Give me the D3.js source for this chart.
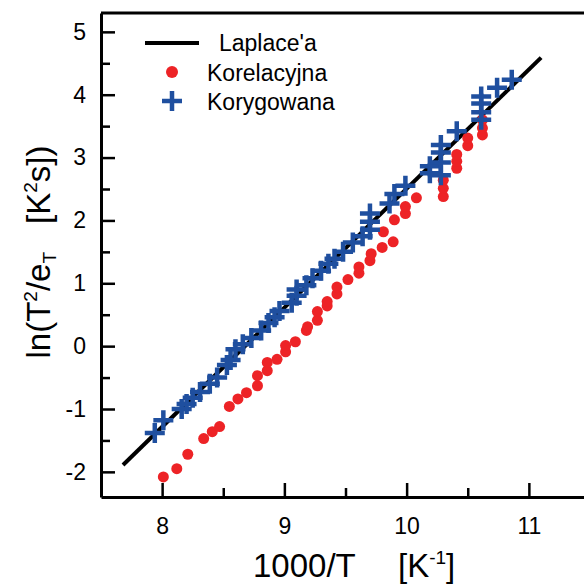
<!DOCTYPE html>
<html lang="en">
<head>
<meta charset="UTF-8">
<title>ln(T2/eT) vs 1000/T</title>
<script src="https://d3js.org/d3.v7.min.js"></script>
<style>
  body { margin: 0; background: #fff; }
  svg { display: block; font-family: "Liberation Sans", Arial, sans-serif; }
  .axis path, .axis line { stroke: #000; }
  .axis text { font-size: 23px; fill: #000; }
</style>
</head>
<body>
<script>
// Laplace'a fit line (end points)
const laplaceX = [7.68, 11.10];
const laplaceY = [-1.89, 4.59];

// Korelacyjna (red dots)
const korelX = [8.01, 8.12, 8.21, 8.34, 8.41, 8.47, 8.55, 8.62, 8.69, 8.78, 8.78, 8.86, 8.86, 8.94,
  9.01, 9.01, 9.09, 9.18, 9.19, 9.27, 9.27, 9.35, 9.35, 9.43, 9.43, 9.52, 9.61, 9.61, 9.70, 9.71,
  9.80, 9.89, 9.81, 9.90, 9.99, 9.99, 10.08, 10.30, 10.30, 10.30, 10.41, 10.41, 10.41, 10.50, 10.50,
  10.62, 10.62, 10.62];
const korelY = [-2.08, -1.95, -1.72, -1.47, -1.36, -1.28, -0.96, -0.84, -0.74, -0.63, -0.47, -0.39, -0.26, -0.21,
  -0.09, 0.01, 0.07, 0.25, 0.31, 0.41, 0.55, 0.64, 0.71, 0.83, 0.94, 1.06, 1.16, 1.26, 1.36, 1.47,
  1.57, 1.66, 1.82, 2.01, 2.11, 2.22, 2.36, 2.38, 2.51, 2.64, 2.83, 2.94, 3.05, 3.19, 3.31,
  3.36, 3.47, 3.60];

// Korygowana (blue crosses)
const korygX = [7.94, 8.01, 8.16, 8.20, 8.25, 8.31, 8.39, 8.45, 8.53, 8.56, 8.60, 8.66, 8.73, 8.81,
  8.87, 8.92, 8.96, 9.06, 9.10, 9.10, 9.18, 9.23, 9.30, 9.36, 9.41, 9.48, 9.56, 9.64, 9.70, 9.70,
  9.70, 9.86, 9.90, 9.99, 10.19, 10.19, 10.28, 10.28, 10.28, 10.28, 10.41, 10.61, 10.61, 10.61,
  10.61, 10.74, 10.86];
const korygY = [-1.38, -1.18, -1.00, -0.92, -0.82, -0.73, -0.60, -0.50, -0.30, -0.22, -0.05, 0.03, 0.13, 0.25,
  0.37, 0.46, 0.56, 0.69, 0.80, 0.90, 0.97, 1.08, 1.20, 1.31, 1.39, 1.50, 1.65, 1.75, 1.85, 1.98,
  2.11, 2.27, 2.42, 2.55, 2.75, 2.86, 2.72, 2.92, 3.08, 3.20, 3.42, 3.60, 3.72, 3.86,
  3.97, 4.11, 4.24];

const xTicks = [8, 9, 10, 11];
const yTicks = [-2, -1, 0, 1, 2, 3, 4, 5];
const legendLabels = ["Laplace'a", "Korelacyjna", "Korygowana"];

const red = "#ed2326", blue = "#1f4f9f";

const W = 584, H = 586;
const svg = d3.select("body").append("svg").attr("width", W).attr("height", H);

const x = d3.scaleLinear().domain([7.5, 11.5]).range([101, 590]);
const y = d3.scaleLinear().domain([-2.4, 5.3]).range([497, 13]);

// frame (top line; right side falls outside the picture)
svg.append("line")
  .attr("x1", x(7.5)).attr("x2", x(11.5))
  .attr("y1", y(5.3)).attr("y2", y(5.3))
  .attr("stroke", "#000").attr("stroke-width", 3);

// minor ticks
const minorX = d3.range(7.5, 11.51, 0.5).filter(v => !xTicks.includes(v));
const minorY = d3.range(-2.5, 5.01, 0.5).filter(v => !yTicks.includes(v) && v > -2.4);

svg.append("g").attr("class", "axis")
  .attr("transform", `translate(0,${y(-2.4)})`)
  .call(d3.axisBottom(x).tickValues(minorX).tickSize(-9).tickFormat(""))
  .call(g => g.select(".domain").remove())
  .selectAll("line").attr("stroke-width", 2.5);

svg.append("g").attr("class", "axis")
  .attr("transform", `translate(${x(7.5)},0)`)
  .call(d3.axisLeft(y).tickValues(minorY).tickSize(-9).tickFormat(""))
  .call(g => g.select(".domain").remove())
  .selectAll("line").attr("stroke-width", 2.5);

// major axes (plain hyphen for negatives, as in the original)
const fmt = d => String(d);
const xAxis = svg.append("g").attr("class", "axis")
  .attr("transform", `translate(0,${y(-2.4)})`)
  .call(d3.axisBottom(x).tickValues(xTicks).tickSize(-14).tickSizeOuter(0).tickPadding(21).tickFormat(fmt));
xAxis.select(".domain").attr("stroke-width", 3);
xAxis.selectAll("line").attr("stroke-width", 2.5);

const yAxis = svg.append("g").attr("class", "axis")
  .attr("transform", `translate(${x(7.5)},0)`)
  .call(d3.axisLeft(y).tickValues(yTicks).tickSize(-14).tickSizeOuter(0).tickPadding(15).tickFormat(fmt));
yAxis.select(".domain").attr("stroke-width", 3);
yAxis.selectAll("line").attr("stroke-width", 2.5);

// Laplace line
svg.append("line")
  .attr("x1", x(laplaceX[0])).attr("y1", y(laplaceY[0]))
  .attr("x2", x(laplaceX[1])).attr("y2", y(laplaceY[1]))
  .attr("stroke", "#000").attr("stroke-width", 4);

// red dots
svg.append("g").selectAll("circle")
  .data(korelX.map((v, i) => [v, korelY[i]]))
  .join("circle")
  .attr("cx", d => x(d[0])).attr("cy", d => y(d[1]))
  .attr("r", 5.5).attr("fill", red);

// blue crosses
function plus(g, cx, cy) {
  g.append("path")
    .attr("d", `M${cx - 10},${cy}H${cx + 10}M${cx},${cy - 10}V${cy + 10}`)
    .attr("stroke", blue).attr("stroke-width", 4.5).attr("fill", "none");
}
const crosses = svg.append("g");
korygX.forEach((v, i) => plus(crosses, x(v), y(korygY[i])));

// legend
const leg = svg.append("g").style("font-size", "23px");
leg.append("line").attr("x1", 145).attr("x2", 199).attr("y1", 43).attr("y2", 43)
  .attr("stroke", "#000").attr("stroke-width", 4);
leg.append("text").attr("x", 219).attr("y", 51).text(legendLabels[0]);
leg.append("circle").attr("cx", 172).attr("cy", 72).attr("r", 6).attr("fill", red);
leg.append("text").attr("x", 207).attr("y", 81).text(legendLabels[1]);
plus(leg, 172, 101);
leg.append("text").attr("x", 207).attr("y", 110).text(legendLabels[2]);

// x title
const xt = svg.append("text").attr("x", 253).attr("y", 577).style("font-size", "33px");
xt.append("tspan").text("1000/T");
xt.append("tspan").attr("x", 398).text("[K");
xt.append("tspan").attr("dy", -13).style("font-size", "19px").text("-1");
xt.append("tspan").attr("dy", 13).text("]");

// y title
const yt = svg.append("text")
  .attr("transform", "translate(50,252) rotate(-90)")
  .attr("text-anchor", "middle").style("font-size", "33px");
yt.append("tspan").text("ln(T");
yt.append("tspan").attr("dy", -13).style("font-size", "19px").text("2");
yt.append("tspan").attr("dy", 13).text("/e");
yt.append("tspan").attr("dy", 6).style("font-size", "19px").text("T");
yt.append("tspan").attr("dy", -6).attr("dx", 28).text("[K");
yt.append("tspan").attr("dy", -13).style("font-size", "19px").text("2");
yt.append("tspan").attr("dy", 13).text("s])");
</script>
</body>
</html>
